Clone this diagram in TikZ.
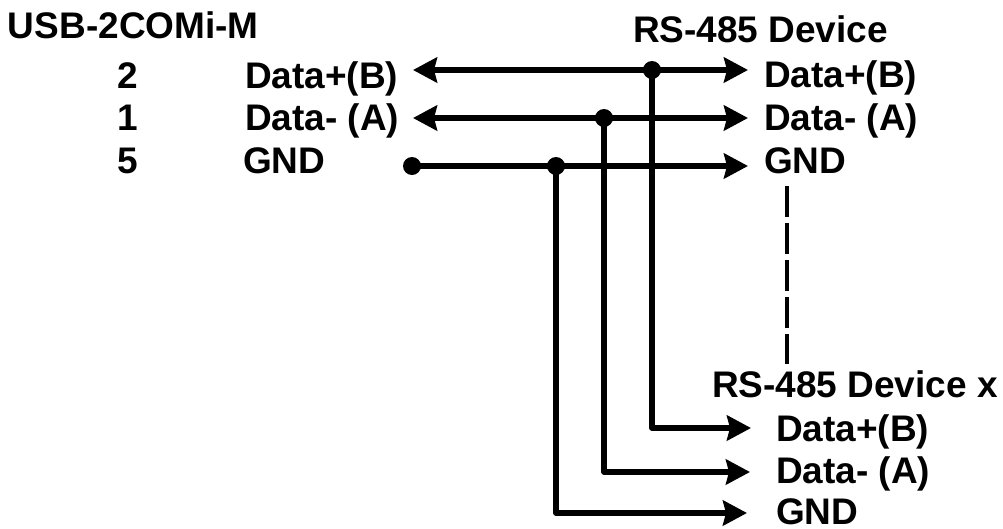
\documentclass[tikz,border=0pt]{standalone}
\usepackage{fontspec}
\setmainfont{Liberation Sans}
\usetikzlibrary{arrows.meta}
\tikzset{
  lbl/.style={anchor=base west,inner sep=0pt,outer sep=0pt,font=\fontsize{37}{37}\selectfont\bfseries},
  wire/.style={line width=5.5pt,line join=round,-{Stealth[length=24pt,width=25pt,inset=3pt]}},
  biwire/.style={line width=5.5pt,{Stealth[length=24pt,width=25pt,inset=3pt]}-{Stealth[length=24pt,width=25pt,inset=3pt]}},
  dot/.style={circle,fill=black,draw=none,minimum size=18pt,inner sep=0pt,outer sep=0pt},
  dashwire/.style={line width=4pt,dash pattern=on 31pt off 6pt}
}
\begin{document}
\begin{tikzpicture}[x=1pt,y=-1pt]
\useasboundingbox (0,0) rectangle (1003,528);
% labels
\node[lbl] (title) at (8,38) {USB-2COMi-M};
\node[lbl] (devA) at (633,42) {RS-485 Device};
\node[lbl] (devX) at (712,397) {RS-485 Device x};
\node[lbl] (n2) at (117,88) {2};
\node[lbl] (n1) at (117,130.5) {1};
\node[lbl] (n5) at (117,173) {5};
\node[lbl] (lb) at (245,88) {Data+(B)};
\node[lbl] (la) at (245,130.5) {Data- (A)};
\node[lbl] (lg) at (243,173) {GND};
\node[lbl] (rb) at (764,87) {Data+(B)};
\node[lbl] (ra) at (764,130) {Data- (A)};
\node[lbl] (rg) at (764,173) {GND};
\node[lbl] (xb) at (776,441) {Data+(B)};
\node[lbl] (xa) at (776,483) {Data- (A)};
\node[lbl] (xg) at (776,524.5) {GND};
% anchors
\coordinate (bl) at (413,70);
\coordinate (br) at (748,70);
\coordinate (al) at (413,118);
\coordinate (ar) at (748,118);
\coordinate (gr) at (748,166);
\coordinate (xbt) at (751,428);
\coordinate (xat) at (750,472);
\coordinate (xgt) at (747,513);
\coordinate (dt) at (787,186);
\coordinate (db) at (787,364);
\node[dot] (db0) at (652,70) {};
\node[dot] (da0) at (604,118) {};
\node[dot] (dg0) at (556,166) {};
\node[dot] (dgl) at (412,166) {};
% wires
\draw[biwire] (bl) -- (br);
\draw[biwire] (al) -- (ar);
\draw[wire] (dgl.center) -- (gr);
\draw[wire] (db0.center) |- (xbt);
\draw[wire] (da0.center) |- (xat);
\draw[wire] (dg0.center) |- (xgt);
\draw[dashwire] (dt) -- (db);
\end{tikzpicture}
\end{document}
